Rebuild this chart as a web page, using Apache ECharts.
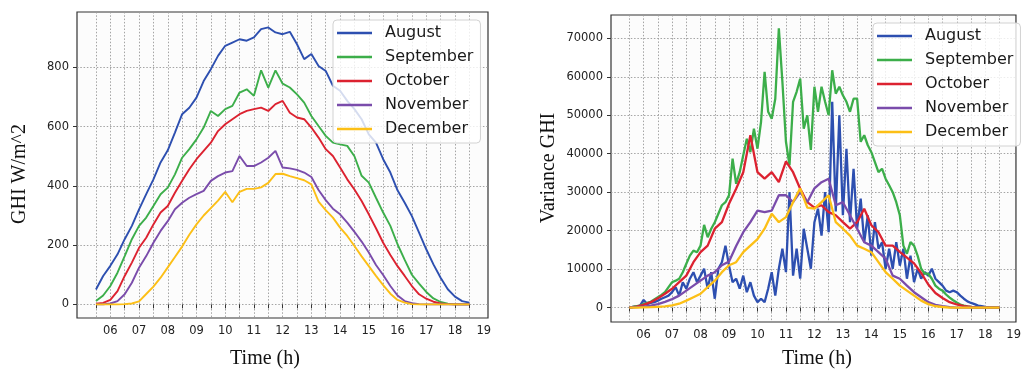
<!DOCTYPE html>
<html>
<head>
<meta charset="utf-8">
<script src="https://cdn.jsdelivr.net/npm/echarts@6/dist/echarts.min.js"></script>
<style>
  html, body { margin: 0; padding: 0; background: #ffffff; }
  #chart { width: 1024px; height: 369px; }
</style>
</head>
<body>
<div id="chart"></div>
<script>
// ---------- data ----------
const monthNames = ['August', 'September', 'October', 'November', 'December'];
const monthColors = ['#2d4fb0', '#3cae4a', '#dc2230', '#7a4cab', '#fcbf16'];

// quarter-hour timestamps (hours)
const hoursQ = [5.5,5.75,6,6.25,6.5,6.75,7,7.25,7.5,7.75,8,8.25,8.5,8.75,9,9.25,9.5,9.75,10,10.25,10.5,10.75,11,11.25,11.5,11.75,12,
  12.25,12.5,12.75,13,13.25,13.5,13.75,14,14.25,14.5,14.75,15,15.25,15.5,15.75,16,16.25,16.5,16.75,17,17.25,17.5,17.75,18,18.25,18.5];
// 7.5-minute timestamps (hours)
const hoursE = [5.5,5.625,5.75,5.875,6,6.125,6.25,6.375,6.5,6.625,6.75,6.875,7,7.125,7.25,7.375,7.5,7.625,7.75,7.875,8,8.125,8.25,8.375,8.5,8.625,8.75,8.875,
  9,9.125,9.25,9.375,9.5,9.625,9.75,9.875,10,10.125,10.25,10.375,10.5,10.625,10.75,10.875,11,11.125,11.25,11.375,11.5,11.625,11.75,11.875,12,
  12.125,12.25,12.375,12.5,12.625,12.75,12.875,13,13.125,13.25,13.375,13.5,13.625,13.75,13.875,14,14.125,14.25,14.375,14.5,14.625,14.75,14.875,
  15,15.125,15.25,15.375,15.5,15.625,15.75,15.875,16,16.125,16.25,16.375,16.5,16.625,16.75,16.875,17,17.125,17.25,17.375,17.5,17.625,17.75,17.875,
  18,18.125,18.25,18.375,18.5];

// GHI (W/m^2), on hoursQ
const ghiAug = [50,96,130,169,220,265,321,372,422,479,520,580,642,664,698,754,794,839,873,884,895,890,901,929,935,918,912,
  920,878,828,845,805,788,738,721,687,659,625,574,546,490,445,385,343,298,242,186,135,90,51,26,11,6];
const ghiSep = [11,30,62,107,163,220,265,293,332,372,394,439,495,524,557,597,653,636,659,670,715,726,704,790,732,790,745,
  732,709,681,636,602,569,546,540,535,500,434,411,360,310,265,203,150,100,70,42,20,8,2,0,0,0];
const ghiOct = [2,5,15,45,96,141,191,225,270,310,332,377,417,456,490,518,546,585,608,625,642,653,659,664,653,676,687,
  647,631,625,597,563,524,501,462,422,388,349,304,257,208,167,129,96,62,34,19,9,3,1,0,0,0];
const ghiNov = [0,0,3,11,34,73,124,163,208,248,281,321,343,360,372,383,417,433,445,450,501,467,467,479,495,518,462,
  459,454,445,430,386,352,323,304,276,245,212,175,133,99,62,30,11,4,1,0,0,0,0,0,0,0];
const ghiDec = [0,0,0,0,1,3,10,35,60,90,125,160,195,235,270,300,325,350,380,345,380,390,390,395,410,440,441,
  433,426,419,405,347,318,293,259,231,197,162,129,96,65,36,15,6,1,0,0,0,0,0,0,0,0];

// Variance of GHI; August & September on hoursE, the others on hoursQ
const varAug = [0,200,300,500,2000,900,1200,1400,1800,2300,2700,3100,4000,5300,3100,6600,4900,7500,9200,6600,8300,10100,4900,9200,2300,10100,11800,16100,
  10900,6600,7500,4900,8300,4000,6600,3100,1400,2300,1400,4900,9200,3100,10100,15300,9200,30000,8300,15300,7500,20500,15300,10100,22200,
  25700,18700,30000,19600,53500,25000,50000,24000,41300,22200,36100,20500,28300,17000,24000,13500,22200,15300,17000,10100,15300,10100,17000,
  10900,15300,7500,13500,6600,10100,7500,9200,8300,10100,7500,6600,5700,4400,4000,4400,4000,3100,2300,1600,1200,900,500,350,
  200,100,50,0,0];
const varSep = [0,200,350,500,900,1200,1500,2100,2700,3300,4000,5300,6600,7000,7500,9200,11400,13500,14800,14400,16100,21500,18300,20500,22200,24400,26600,27400,
  29200,38700,32200,35200,39600,43900,40400,46500,41300,48300,61300,50900,49100,54300,72600,58700,43100,37000,53500,56100,59500,46500,50000,41000,57400,
  50900,57400,53500,50000,61700,55600,57400,55200,53500,50900,54300,54300,43100,44800,42200,40400,37800,35200,36100,33500,31800,30000,27400,
  24000,16100,14000,17000,16100,13500,10100,8800,8800,7500,5700,4900,4400,3400,2600,1900,1300,800,500,300,150,80,0,0,
  0,0,0,0,0];
const varOct = [0,250,700,1400,2400,3600,4900,6600,8300,11800,14400,16100,20500,22200,27000,30900,35200,44800,35200,33500,35200,32600,38000,35200,30900,27400,26000,
  26600,24800,24000,22200,20500,22200,25700,21400,19600,16100,16100,14500,13000,11500,9000,6000,3800,2500,1400,800,400,150,0,0,0,0];
const varNov = [0,100,250,500,900,1500,2200,3100,4400,5700,7000,8300,9200,11000,12000,16000,19600,22200,25200,24800,25200,29200,29200,27400,30000,27400,31000,
  32600,33500,26600,27400,24000,20500,17000,16100,14400,12700,8300,7500,5700,4000,2700,1400,700,350,100,0,0,0,0,0,0,0];
const varDec = [0,0,50,100,200,300,600,1000,1800,2700,3600,5300,7000,9200,11000,11800,14400,16100,17800,20500,24400,22200,23500,27400,31000,26000,25700,
  27400,29200,22200,20500,18700,16100,15300,14400,11800,9200,7500,5700,4400,3100,1800,900,350,150,0,0,0,0,0,0,0,0];

// axis ticks / labels
const xTickHours = [5.5,6,6.5,7,7.5,8,8.5,9,9.5,10,10.5,11,11.5,12,12.5,13,13.5,14,14.5,15,15.5,16,16.5,17,17.5,18,18.5];
const xLabelHours = [6,7,8,9,10,11,12,13,14,15,16,17,18,19];
const ghiTicks = [0,200,400,600,800];
const varTicks = [0,10000,20000,30000,40000,50000,60000,70000];

// ---------- chart ----------
const pair = (xs, ys) => ys.map((v, i) => [xs[i], v]);
const labelFont = { fontFamily: 'DejaVu Sans', fontSize: 11.5, color: '#222' };
const gridLine = { show: true, lineStyle: { type: [1.5, 1.8], color: '#9a9a9a', width: 0.9 } };
const tickStyle = { show: true, length: 4, lineStyle: { color: '#333', width: 1 } };

function xAxisFor(gridIndex, min, max) {
  return {
    type: 'value', gridIndex, min, max,
    axisLine: { show: false },
    axisTick: Object.assign({ customValues: xTickHours }, tickStyle),
    axisLabel: Object.assign({ customValues: xLabelHours, margin: 7,
      formatter: v => (v < 10 ? '0' : '') + v }, labelFont),
    splitLine: gridLine
  };
}
function yAxisFor(gridIndex, min, max, ticks) {
  return {
    type: 'value', gridIndex, min, max,
    axisLine: { show: false },
    axisTick: Object.assign({ customValues: ticks }, tickStyle),
    axisLabel: Object.assign({ customValues: ticks, margin: 8, formatter: v => String(v) }, labelFont),
    splitLine: gridLine
  };
}

const ghiSeries = [ghiAug, ghiSep, ghiOct, ghiNov, ghiDec];
const varSeries = [[hoursE, varAug], [hoursE, varSep], [hoursQ, varOct], [hoursQ, varNov], [hoursQ, varDec]];

const series = [];
ghiSeries.forEach((ys, i) => series.push({
  name: monthNames[i], type: 'line', xAxisIndex: 0, yAxisIndex: 0,
  data: pair(hoursQ, ys), symbol: 'none', showSymbol: false,
  color: monthColors[i], lineStyle: { width: 1.9, color: monthColors[i] }
}));
varSeries.forEach((p, i) => series.push({
  name: monthNames[i], type: 'line', xAxisIndex: 1, yAxisIndex: 1,
  data: pair(p[0], p[1]), symbol: 'none', showSymbol: false,
  color: monthColors[i], lineStyle: { width: 2.3, color: monthColors[i] }
}));

function legendAt(left, top) {
  return {
    left, top, orient: 'vertical', data: monthNames,
    icon: 'path://M0,0L35,0L35,2.4L0,2.4Z',
    itemWidth: 35, itemHeight: 16, itemGap: 8,
    padding: [5, 7, 6, 4],
    backgroundColor: 'rgba(255,255,255,0.8)',
    borderColor: '#d2d2d2', borderWidth: 1, borderRadius: 4,
    textStyle: { fontFamily: 'DejaVu Sans', fontSize: 16, color: '#1a1a1a', padding: [0, 0, 0, 8] }
  };
}

const nameFont = '20px "Liberation Serif"';
function nameText(text, x, y, rot) {
  return {
    type: 'text', x, y, rotation: rot || 0,
    style: { text, font: nameFont, fill: '#111', align: 'center', verticalAlign: 'middle',
             textAlign: 'center', textVerticalAlign: 'middle' }
  };
}

const option = {
  animation: false,
  backgroundColor: '#ffffff',
  grid: [
    { left: 77, top: 12, width: 411, height: 306, show: true, borderColor: '#333', borderWidth: 1.2, backgroundColor: '#fcfcfc' },
    { left: 611, top: 15, width: 418, height: 307, show: true, borderColor: '#333', borderWidth: 1.2, backgroundColor: '#fcfcfc' }
  ],
  xAxis: [ xAxisFor(0, 4.84, 19.15), xAxisFor(1, 4.854, 19.08) ],
  yAxis: [ yAxisFor(0, -46, 987, ghiTicks), yAxisFor(1, -3750, 76060, varTicks) ],
  legend: [ legendAt(333, 20), legendAt(873, 23) ],
  series,
  graphic: [
    nameText('GHI W/m^2', 20, 174, Math.PI / 2),
    nameText('Time (h)', 265, 359),
    nameText('Variance GHI', 549, 168, Math.PI / 2),
    nameText('Time (h)', 817, 359)
  ]
};

const chart = echarts.init(document.getElementById('chart'), null, { renderer: 'canvas' });
chart.setOption(option);
</script>
</body>
</html>
